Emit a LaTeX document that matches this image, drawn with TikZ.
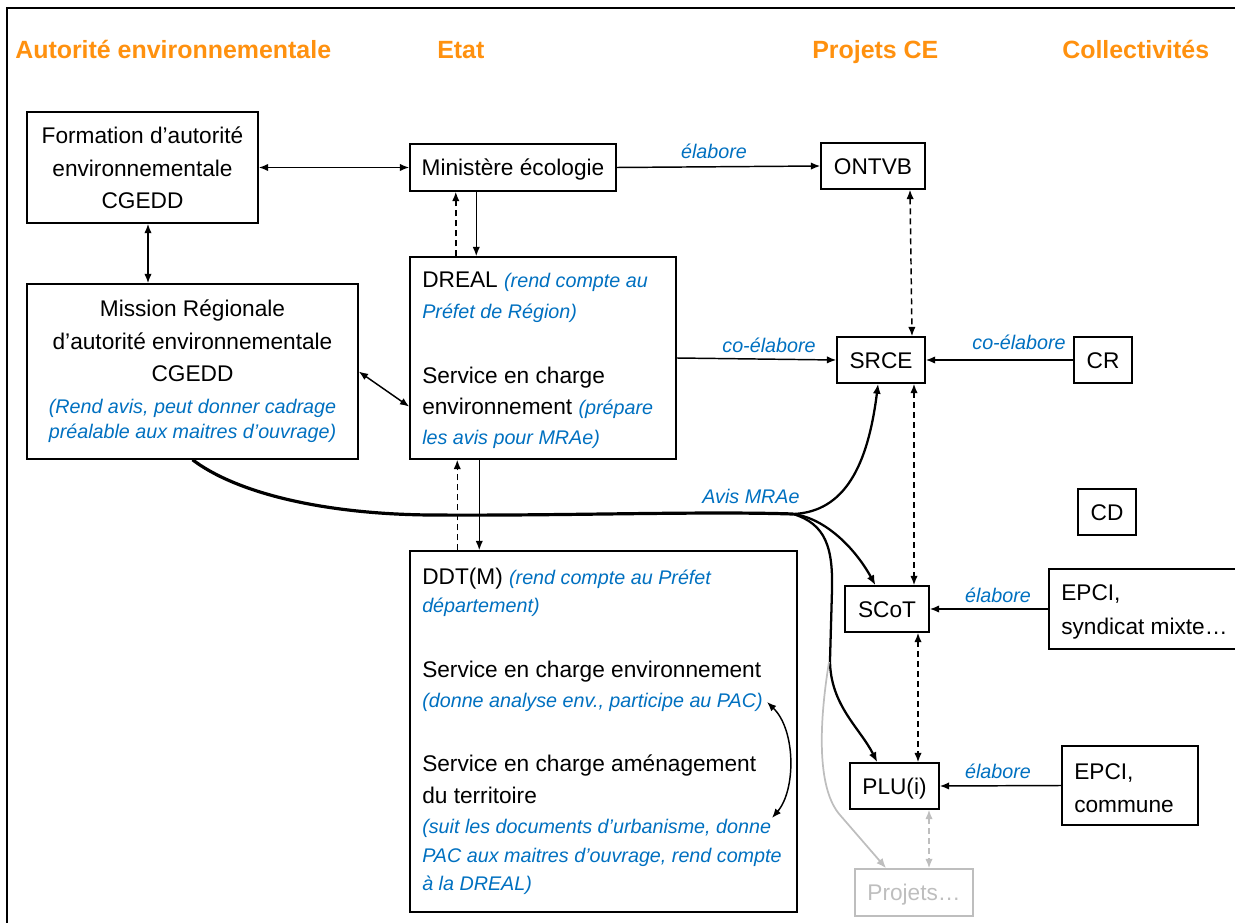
\documentclass[tikz,border=0pt]{standalone}
\usepackage{fontspec}
\setmainfont{Liberation Sans}
\usetikzlibrary{arrows.meta,fit}
\definecolor{orng}{RGB}{255,145,15}
\definecolor{blu}{RGB}{0,112,192}
\definecolor{gry}{RGB}{190,190,190}
\newcommand{\bnote}[1]{\textcolor{blu}{\fontsize{14.8}{18}\selectfont\itshape #1}}
\def\pxu{0.75pt}
\begin{document}
\begin{tikzpicture}[x=0.75pt,y=-0.75pt,
  box/.style={draw, line width=1.1pt, inner sep=0pt, font=\fontsize{17}{20}\selectfont, text height=12.2pt, text depth=0pt},
  gbox/.style={box, draw=gry, text=gry},
  txt/.style={inner sep=0pt, font=\fontsize{17}{20}\selectfont},
  note/.style={inner sep=0pt, font=\fontsize{14.8}{18}\selectfont\itshape, text=blu},
  head/.style={inner sep=0pt, font=\fontsize{18.7}{22}\selectfont\bfseries, text=orng, anchor=base west},
  arr/.style={line width=1.1pt, -{Latex[length=7pt,width=5.5pt]}},
  darr/.style={line width=1.1pt, {Latex[length=7pt,width=5.5pt]}-{Latex[length=7pt,width=5.5pt]}},
  dsh/.style={dash pattern=on 4.5pt off 3pt},
  avis/.style={line width=2.4pt},
  branch/.style={line width=1.7pt, -{Latex[length=7.5pt,width=6pt]}},
]
\useasboundingbox (0,0) rectangle (1235,923);
\begin{scope}
  \clip (0,0) rectangle (1235,923);
  \draw[line width=1.5pt] (7,8) rectangle (1300,1000);
\end{scope}

% headers
\node[head] (h1) at (15,59) {Autorité environnementale};
\node[head] (h2) at (437,59) {Etat};
\node[head] (h3) at (812,59) {Projets CE};
\node[head] (h4) at (1062,59) {Collectivités};

% boxes
\node[box, fit={(27,112) (258,223)}] (formation) {};
\node[box, minimum width={206*\pxu}, minimum height={47*\pxu}] (ministere) at (513,167.5) {Ministère écologie};
\node[box, minimum width={104*\pxu}, minimum height={46*\pxu}] (ontvb) at (873,166) {ONTVB};
\node[box, fit={(27,284) (358,459)}] (mission) {};
\node[box, fit={(410,257) (676,459)}] (dreal) {};
\node[box, minimum width={88*\pxu}, minimum height={46*\pxu}] (srce) at (881,360) {SRCE};
\node[box, minimum width={58*\pxu}, minimum height={46*\pxu}] (cr) at (1103,360) {CR};
\node[box, minimum width={58*\pxu}, minimum height={46*\pxu}] (cd) at (1107,512) {CD};
\node[box, fit={(410,551) (797,912)}] (ddt) {};
\node[box, minimum width={84*\pxu}, minimum height={46*\pxu}] (scot) at (887,609) {SCoT};
\node[box, fit={(1049,569) (1270,649)}] (epcia) {};
\node[box, minimum width={89*\pxu}, minimum height={46*\pxu}] (plu) at (894.5,786) {PLU(i)};
\node[box, fit={(1062,746) (1198,825)}] (epcib) {};
\node[gbox, minimum width={118*\pxu}, minimum height={47*\pxu}] (projets) at (914,892.5) {Projets…};

% box texts
\node[txt, anchor=base] (f1) at (142.5,144) {Formation d’autorité};
\node[txt, anchor=base] (f2) at (142.5,177) {environnementale};
\node[txt, anchor=base] (f3) at (142.5,209) {CGEDD};

\node[txt, anchor=base] (m1) at (192.5,317) {Mission Régionale};
\node[txt, anchor=base] (m2) at (192.5,350) {d’autorité environnementale};
\node[txt, anchor=base] (m3) at (192.5,382) {CGEDD};
\node[note, anchor=base] (m4) at (192.5,413) {(Rend avis, peut donner cadrage};
\node[note, anchor=base] (m5) at (192.5,439) {préalable aux maitres d’ouvrage)};

\node[txt, anchor=base west] (d1) at (422,288) {DREAL \bnote{(rend compte au}};
\node[note, anchor=base west] (d2) at (422,319) {Préfet de Région)};
\node[txt, anchor=base west] (d3) at (422,383) {Service en charge};
\node[txt, anchor=base west] (d4) at (422,415) {environnement \bnote{(prépare}};
\node[note, anchor=base west] (d5) at (422,445) {les avis pour MRAe)};

\node[txt, anchor=base west] (t1) at (422,584) {DDT(M) \bnote{(rend compte au Préfet}};
\node[note, anchor=base west] (t2) at (422,612) {département)};
\node[txt, anchor=base west] (t3) at (422,677) {Service en charge environnement};
\node[note, anchor=base west] (t4) at (422,707) {(donne analyse env., participe au PAC)};
\node[txt, anchor=base west] (t5) at (422,771) {Service en charge aménagement};
\node[txt, anchor=base west] (t6) at (422,803) {du territoire};
\node[note, anchor=base west] (t7) at (422,833) {(suit les documents d’urbanisme, donne};
\node[note, anchor=base west] (t8) at (422,862) {PAC aux maitres d’ouvrage, rend compte};
\node[note, anchor=base west] (t9) at (422,890) {à la DREAL)};

\node[txt, anchor=base west] (ea1) at (1061,600) {EPCI,};
\node[txt, anchor=base west] (ea2) at (1061,634) {syndicat mixte…};
\node[txt, anchor=base west] (eb1) at (1074,779) {EPCI,};
\node[txt, anchor=base west] (eb2) at (1074,812) {commune};

% labels
\node[note, anchor=base] (lab1) at (714,159) {élabore};
\node[note, anchor=base] (lab2) at (769,353) {co-élabore};
\node[note, anchor=base] (lab3) at (1019,350) {co-élabore};
\node[note, anchor=base] (lab4) at (751,503) {Avis MRAe};
\node[note, anchor=base] (lab5) at (998,602) {élabore};
\node[note, anchor=base] (lab6) at (998,778) {élabore};

% connectors
\draw[darr] (formation.east) -- (ministere.west);
\draw[darr] ([xshift=5.5*\pxu]formation.south) -- ([xshift=-44.5*\pxu]mission.north);
\draw[arr] (ministere.east) -- (ontvb.west);
\draw[arr, dsh] ([xshift=46.5*\pxu]dreal.north west) -- ([xshift=46.5*\pxu]ministere.south west);
\draw[arr] ([xshift=67*\pxu]ministere.south west) -- ([xshift=67*\pxu]dreal.north west);
\draw[darr] (mission.east) -- (dreal.200);
\draw[arr] (dreal.east) -- (srce.west);
\draw[darr, dsh] ([xshift=37*\pxu]ontvb.south) -- ([xshift=31*\pxu]srce.north);
\draw[arr] (cr.west) -- (srce.east);
\draw[darr, dsh] ([xshift=33*\pxu]srce.south) -- ([xshift=27*\pxu]scot.north);
\draw[darr, dsh] ([xshift=31*\pxu]scot.south) -- ([xshift=23.5*\pxu]plu.north);
\draw[darr, dsh, draw=gry] ([xshift=34.5*\pxu]plu.south) -- ([xshift=15*\pxu]projets.north);
\draw[arr] (epcia.west) -- (scot.east);
\draw[arr] (epcib.west) -- (plu.east);
\draw[arr, dsh] ([xshift=48*\pxu]ddt.north west) -- ([xshift=48*\pxu]dreal.south west);
\draw[arr] ([xshift=70*\pxu]dreal.south west) -- ([xshift=70*\pxu]ddt.north west);

% curved arrow inside DDT
\coordinate (ca) at (767,702);
\coordinate (cb) at (772,818);
\draw[darr] (ca) .. controls (796,730) and (796,790) .. (cb);

% Avis MRAe
\coordinate (split) at (793,514);
\coordinate (gsplit) at (829,662);
\draw[avis] (mission.south) .. controls (235,492) and (320,514) .. (430,515) .. controls (560,516) and (700,511) .. (split);
\draw[branch] (split) .. controls (845,512) and (868,465) .. (srce.263);
\draw[branch] (split) .. controls (825,518) and (855,548) .. (scot.116);
\draw[branch] (split) .. controls (826,524) and (833,548) .. (832,590) -- (830,660) .. controls (830,705) and (860,728) .. (plu.126);
\draw[branch, draw=gry, line width=1.3pt] (gsplit) .. controls (818,730) and (818,790) .. (840,815) -- (projets.139);
\end{tikzpicture}
\end{document}
